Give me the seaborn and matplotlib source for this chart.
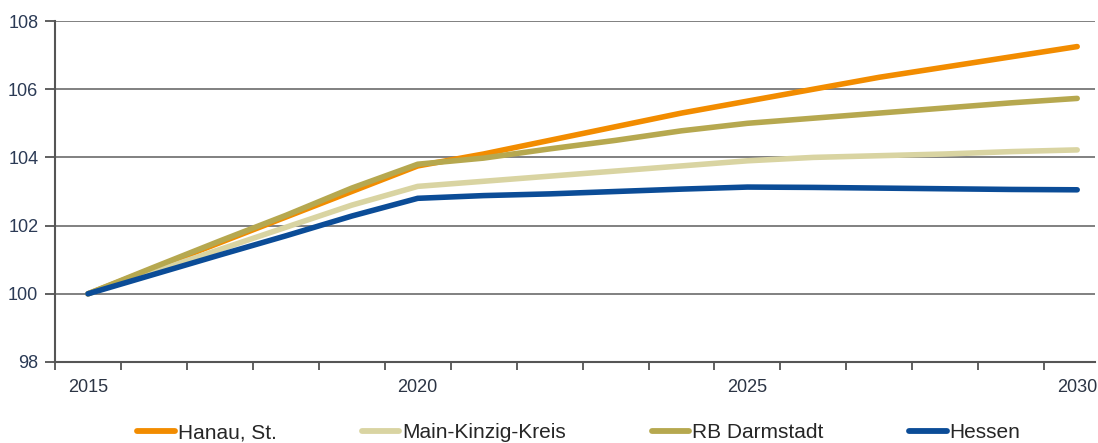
import pandas as pd
import matplotlib.pyplot as plt
import matplotlib.ticker as mticker
import seaborn as sns

# Werte (Index 2015 = 100)
jahre = list(range(2015, 2031))
hanau = [100.0, 100.75, 101.5, 102.25, 103.0, 103.75, 104.1, 104.5, 104.9, 105.3,
         105.65, 106.0, 106.35, 106.65, 106.95, 107.25]
main_kinzig = [100.0, 100.65, 101.3, 101.95, 102.6, 103.15, 103.3, 103.45, 103.6, 103.75,
               103.9, 104.0, 104.05, 104.1, 104.17, 104.22]
rb_darmstadt = [100.0, 100.78, 101.55, 102.3, 103.1, 103.8, 103.98, 104.25, 104.5, 104.78,
                105.0, 105.15, 105.3, 105.45, 105.6, 105.73]
hessen = [100.0, 100.57, 101.14, 101.7, 102.28, 102.8, 102.88, 102.93, 103.0, 103.07,
          103.13, 103.12, 103.1, 103.08, 103.06, 103.05]

namen = ['Hanau, St.', 'Main-Kinzig-Kreis', 'RB Darmstadt', 'Hessen']
farben = ['#F28C00', '#D9D4A2', '#B6A84F', '#0B4C97']

df = pd.concat([
    pd.DataFrame({'Jahr': jahre, 'Wert': werte, 'Region': name})
    for name, werte in zip(namen, [hanau, main_kinzig, rb_darmstadt, hessen])
])

sns.set_style('white')
plt.rcParams['font.family'] = ['Liberation Sans', 'DejaVu Sans']

fig = plt.figure(figsize=(10.98, 4.43), dpi=100)
ax = fig.add_axes([55 / 1098, 1 - 362 / 443, 1040 / 1098, 341 / 443])

sns.lineplot(data=df, x='Jahr', y='Wert', hue='Region', hue_order=namen,
             palette=farben, linewidth=4, ax=ax, legend=True)
for line in ax.lines:
    line.set_solid_capstyle('round')

ax.set_xlim(2014.5, 2030.27)
ax.set_ylim(98, 108)
ax.set_yticks([98, 100, 102, 104, 106, 108])
ax.yaxis.grid(True, color='#808080', linewidth=1.4)
ax.set_axisbelow(True)

ax.set_xticks([2015, 2020, 2025, 2030])
ax.xaxis.set_minor_locator(mticker.FixedLocator([2014.5 + k for k in range(16)]))
ax.tick_params(axis='x', which='major', length=0, pad=12, labelsize=13, labelcolor='#2b3444')
ax.tick_params(axis='x', which='minor', length=6, width=1.2, color='#444444', direction='out')
ax.tick_params(axis='y', length=7, width=1.2, color='#444444', direction='out',
               labelsize=13, labelcolor='#2b3a55', pad=5)
ax.xaxis.set_ticks_position('bottom')
ax.yaxis.set_ticks_position('left')

for s in ['top', 'right']:
    ax.spines[s].set_visible(False)
for s in ['left', 'bottom']:
    ax.spines[s].set_color('#555555')
    ax.spines[s].set_linewidth(1.5)

ax.set_xlabel('')
ax.set_ylabel('')

handles, labels = ax.get_legend_handles_labels()
ax.get_legend().remove()
leg = fig.legend(handles, labels, loc='center left', bbox_to_anchor=(137 / 1098, 1 - 433 / 443),
                 ncol=4, frameon=False, fontsize=15, handlelength=1.8, handletextpad=0.15,
                 columnspacing=4.1, borderaxespad=0, borderpad=0)
for h in leg.get_lines():
    h.set_linewidth(4.2)

fig.savefig('out.png', dpi=100)
